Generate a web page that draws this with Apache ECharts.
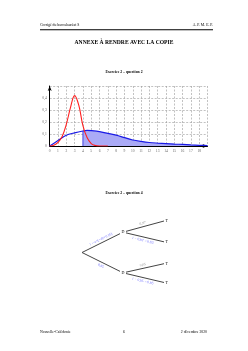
<!DOCTYPE html>
<html><head><meta charset="utf-8">
<script src="https://cdn.jsdelivr.net/npm/echarts@6/dist/echarts.min.js"></script>
<style>html,body{margin:0;padding:0;background:#fff}#c{width:248px;height:351px}</style>
</head><body><div id="c"></div>
<script>
// ---- data ----
var xTicks = [0,1,2,3,4,5,6,7,8,9,10,11,12,13,14,15,16,17,18];
var yTicks = [0,0.1,0.2,0.3,0.4];
var redX = [0,0.5,1,1.5,2,2.5,3,3.5,4,4.5,5,5.5,6,6.5,7];
var redY = [0,0.006,0.03,0.08,0.18,0.32,0.42,0.34,0.17,0.07,0.02,0.004,0,0,0];
var blueX = [0,1,2,3,4,4.5,5,6,7,8,9,10,11,12,13,14,15,16,17,18,19];
var blueY = [0,0.045,0.09,0.11,0.125,0.13,0.128,0.12,0.105,0.09,0.07,0.05,0.038,0.029,0.024,0.02,0.016,0.013,0.009,0.006,0.003];
var shadeFrom = 4;
// tree
var treeNodes = ['root','D','Dbar','T1','T1bar','T2','T2bar'];
var treeNodeLabels = ['', 'D', 'D\u0304', 'T', 'T\u0304', 'T', 'T\u0304'];
var treeX = [0,1,1,2,2,2,2];
var treeY = [0,2,-2,3.1,1.05,-1.1,-2.95];
var treeLinks = [['root','D'],['root','Dbar'],['D','T1'],['D','T1bar'],['Dbar','T2'],['Dbar','T2bar']];
var treeLinkLabels = ['1 − e^(−40×0,05)','0,85','0,97','1 − 0,97 = 0,03','0,05','1 − 0,05 = 0,95'];
var treeLinkSide = ['top','bottom','top','bottom','top','bottom'];
var treeLinkColor = ['blue','blue','gray','blue','gray','blue'];

var chart = echarts.init(document.getElementById('c'));
var fmt = function(v){ return String(v).replace('.', ','); };
var pair = function(xs, ys){ return xs.map(function(x,i){ return [x, ys[i]]; }); };
var shadeData = pair(blueX, blueY).filter(function(p){ return p[0] >= shadeFrom; });
var shadeStartY = blueY[blueX.indexOf(shadeFrom)];

var serif = 'Liberation Serif';
var option = {
  animation: false,
  backgroundColor: '#fff',
  textStyle: {fontFamily: serif},
  graphic: [
    {type:'text', left:40, top:23, style:{text:'Corrigé du baccalauréat S', font:'3.8px "Liberation Serif"', fill:'#000'}},
    {type:'text', right:35, top:23, style:{text:'A. P. M. E. P.', font:'3.8px "Liberation Serif"', fill:'#000'}},
    {type:'rect', shape:{x:40, y:29.3, width:173, height:1}, style:{fill:'#000'}},
    {type:'text', left:'center', top:40, style:{text:'ANNEXE À RENDRE AVEC LA COPIE', font:'bold 5.6px "Liberation Serif"', fill:'#000'}},
    {type:'text', left:'center', top:70.5, style:{text:'Exercice 2 – question 2', font:'bold 3.8px "Liberation Serif"', fill:'#000'}},
    {type:'text', left:'center', top:191.5, style:{text:'Exercice 2 – question 4', font:'bold 3.8px "Liberation Serif"', fill:'#000'}},
    {type:'text', left:40, top:330, style:{text:'Nouvelle-Calédonie', font:'3.8px "Liberation Serif"', fill:'#000'}},
    {type:'text', left:123, top:330, style:{text:'6', font:'3.8px "Liberation Serif"', fill:'#000'}},
    {type:'text', right:41, top:330, style:{text:'2 décembre 2020', font:'3.8px "Liberation Serif"', fill:'#000'}}
  ],
  grid: [
    {left:49.7, right:40.5, top:86, bottom:205},
    {left:82, width:82, top:221, height:62}
  ],
  xAxis: [
    {gridIndex:0, type:'value', min:0, max:19, interval:1,
     axisLine:{show:true, lineStyle:{color:'#000', width:1}, symbol:['none','arrow'], symbolSize:[3,5]},
     axisTick:{show:false},
     axisLabel:{fontSize:3.6, color:'#666', margin:3, fontFamily:serif,
       formatter:function(v){ return xTicks.indexOf(v) >= 0 ? String(v) : ''; }},
     splitLine:{show:true, lineStyle:{color:'#999', type:[2,1.5], width:0.6}}},
    {gridIndex:1, type:'value', min:0, max:2, show:false}
  ],
  yAxis: [
    {gridIndex:0, type:'value', min:0, max:0.5, interval:0.1,
     axisLine:{show:true, onZero:false, lineStyle:{color:'#000', width:1}, symbol:['none','arrow'], symbolSize:[3,5]},
     axisTick:{show:false},
     axisLabel:{fontSize:3.6, color:'#666', margin:3, fontFamily:serif,
       formatter:function(v){ var r = Math.round(v*10)/10; return yTicks.indexOf(r) >= 0 && Math.abs(r-v)<1e-9 ? fmt(r) : ''; }},
     splitLine:{show:true, lineStyle:{color:'#999', type:[2,1.5], width:0.6}}},
    {gridIndex:1, type:'value', min:-3.0, max:3.1, show:false}
  ],
  series: [
    {type:'line', xAxisIndex:0, yAxisIndex:0, data:shadeData, showSymbol:false, smooth:0.3,
     lineStyle:{width:0}, areaStyle:{color:'#aaaaf6', opacity:1}, z:1},
    {type:'line', xAxisIndex:0, yAxisIndex:0, data:[[shadeFrom,0],[shadeFrom,shadeStartY]], showSymbol:false,
     lineStyle:{color:'#2222dd', width:0.8}, z:2},
    {type:'line', xAxisIndex:0, yAxisIndex:0, data:pair(blueX, blueY), showSymbol:false, smooth:0.3,
     lineStyle:{color:'#1a1ae6', width:1.2}, z:3},
    {type:'line', xAxisIndex:0, yAxisIndex:0, data:pair(redX, redY), showSymbol:false, smooth:0.4,
     lineStyle:{color:'#ff2020', width:1.1}, z:4},
    {type:'graph', coordinateSystem:'cartesian2d', xAxisIndex:1, yAxisIndex:1,
     symbol:'rect', symbolSize:[5,5], z:5,
     itemStyle:{color:'#fff'},
     label:{show:true, position:'inside', fontSize:4, color:'#000', fontFamily:serif},
     data: treeNodes.map(function(n,i){
       var leaf = treeX[i] === 2;
       return {name:n, value:[treeX[i], treeY[i]],
         symbolSize: treeX[i]===0 ? 0 : (leaf ? 0 : [6,5]),
         label:{show:true, formatter:treeNodeLabels[i], position: leaf ? 'right' : 'inside', distance:1.5}};
     }),
     links: treeLinks.map(function(l,i){
       return {source:l[0], target:l[1],
         label:{show:true, formatter:treeLinkLabels[i],
           position: treeLinkSide[i]==='top' ? 'insideMiddleTop' : 'insideMiddleBottom',
           distance:1.5, fontSize:3.6, fontFamily:serif,
           color: treeLinkColor[i]==='blue' ? '#6a6aff' : '#888'}};
     }),
     lineStyle:{color:'#444', width:1, opacity:1, curveness:0},
     edgeLabel:{show:true}
    }
  ]
};
chart.setOption(option);
</script></body></html>
